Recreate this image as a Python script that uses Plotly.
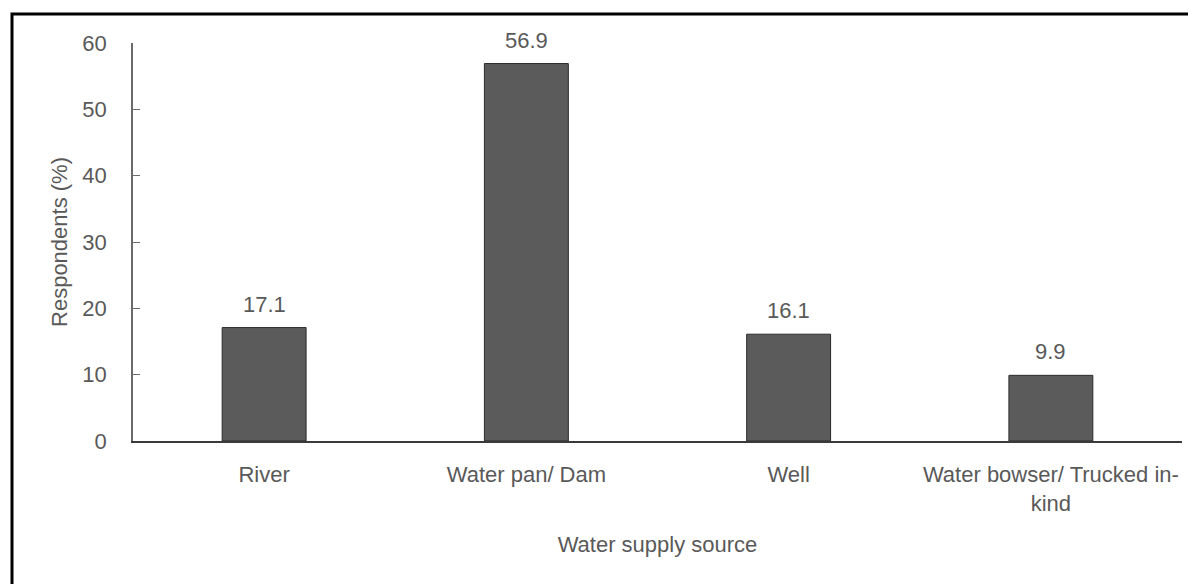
import plotly.graph_objects as go

categories = ["River", "Water pan/ Dam", "Well", "Water bowser/ Trucked in-<br>kind"]
values = [17.1, 56.9, 16.1, 9.9]
value_labels = ["17.1", "56.9", "16.1", "9.9"]
y_ticks = [0, 10, 20, 30, 40, 50, 60]

FONT = "Liberation Sans, Arial, sans-serif"
GRAY = "#595959"
FS = 22

W, H = 1188, 576
ml, mr, mt, mb = 125, 14, 35, 143
pw, ph = W - ml - mr, H - mt - mb

fig = go.Figure()
fig.add_trace(go.Bar(
    x=categories, y=values,
    marker=dict(color="#5b5b5b", line=dict(color="#2b2b2b", width=1)),
    width=0.32, hoverinfo="skip",
))

for c, v, t in zip(categories, values, value_labels):
    fig.add_annotation(x=c, y=v, text=t, showarrow=False, yanchor="bottom",
                       yshift=9, font=dict(family=FONT, size=FS, color=GRAY))

# outer frame (top and left visible)
fig.add_shape(type="rect", xref="paper", yref="paper",
              x0=(4 - ml) / pw, x1=(W + 20 - ml) / pw,
              y0=-(H + 20 - (mt + ph)) / ph, y1=1 + (mt - 6) / ph,
              line=dict(color="black", width=3), layer="below")

fig.update_layout(
    width=W, height=H,
    margin=dict(l=ml, r=mr, t=mt, b=mb),
    paper_bgcolor="white", plot_bgcolor="white",
    showlegend=False,
    font=dict(family=FONT, size=FS, color=GRAY),
    xaxis=dict(
        showline=True, linecolor="#3a3a3a", linewidth=1.5,
        ticks="", tickfont=dict(family=FONT, size=FS, color=GRAY),
        ticklabelstandoff=13,
        title=dict(text="Water supply source", font=dict(family=FONT, size=FS, color=GRAY), standoff=22),
        showgrid=False,
    ),
    yaxis=dict(
        range=[0, 60], tickvals=y_ticks,
        showline=True, linecolor="#6b6b6b", linewidth=1.5,
        ticks="inside", ticklen=7, tickcolor="#6b6b6b",
        tickfont=dict(family=FONT, size=FS, color=GRAY),
        ticklabelstandoff=20,
        title=dict(text="Respondents (%)", font=dict(family=FONT, size=FS, color=GRAY), standoff=9),
        showgrid=False, zeroline=False,
    ),
)

fig.write_html("out.html")
